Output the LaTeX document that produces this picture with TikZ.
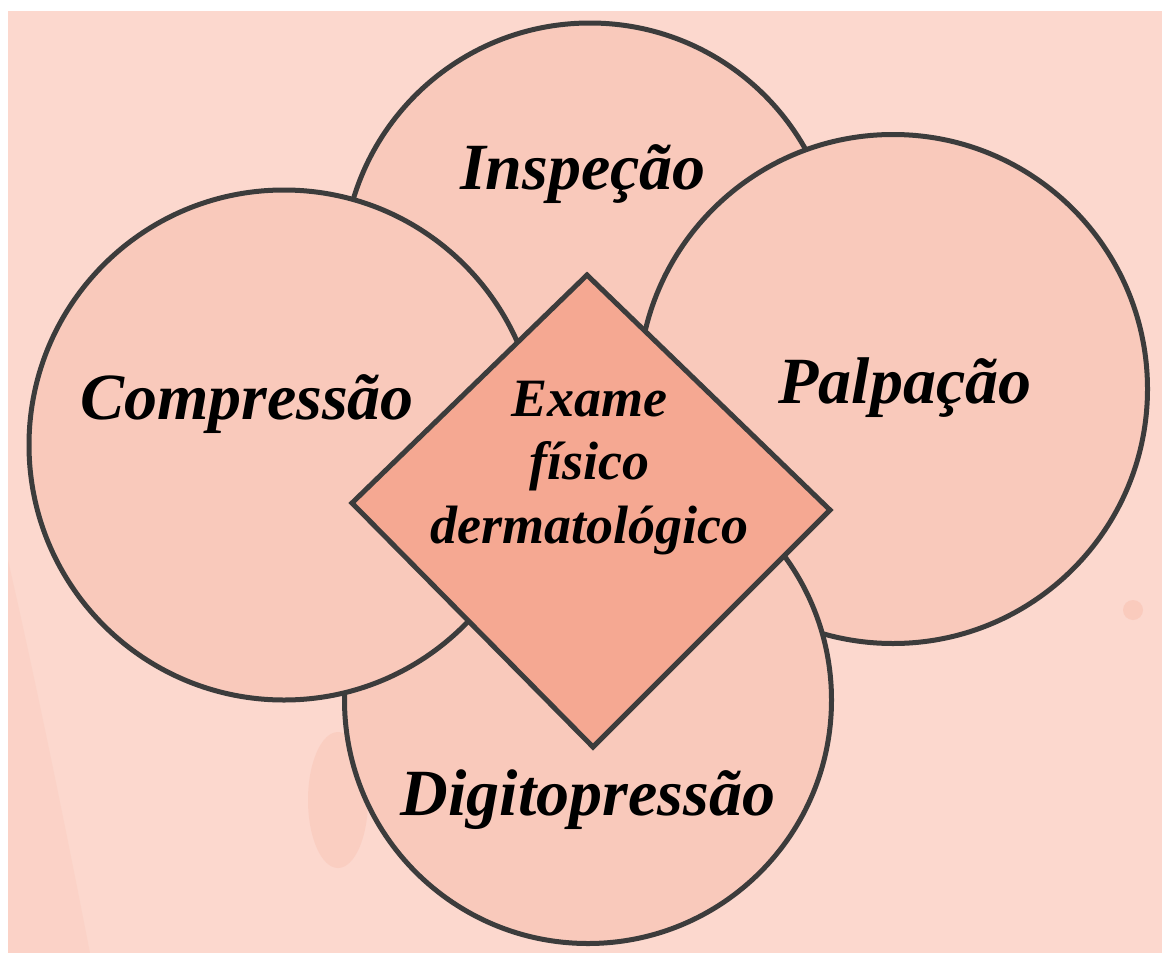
\documentclass[tikz,border=0pt]{standalone}
\usepackage{fontspec}
\setmainfont{Liberation Serif}
\definecolor{bgpink}{HTML}{FCD8CE}
\definecolor{bgdark}{HTML}{F9C3B3}
\definecolor{circfill}{HTML}{F9C9BB}
\definecolor{diafill}{HTML}{F5A892}
\definecolor{edge}{HTML}{3C3C3C}
\tikzset{
  blob/.style={circle, draw=edge, fill=circfill, line width=5pt, inner sep=0pt, outer sep=0pt},
  biglabel/.style={font=\fontsize{66}{72}\selectfont\bfseries\itshape, text=black, inner sep=0pt},
  midlabel/.style={font=\fontsize{54}{63.5}\selectfont\bfseries\itshape, text=black, align=center, inner sep=0pt}
}
\begin{document}
\begin{tikzpicture}[x=1pt,y=-1pt]
\useasboundingbox (0,0) rectangle (1162,953);
\fill[white] (0,0) rectangle (1162,953);
\fill[bgpink] (8,11) rectangle (1175,965);
% faint background texture
\fill[bgdark, opacity=0.25] (8,560) .. controls (40,700) and (70,850) .. (90,953) -- (8,953) -- cycle;
\fill[bgdark, opacity=0.45] (338,800) ellipse [x radius=30pt, y radius=68pt];
\fill[bgdark, opacity=0.6] (1133,610) circle [radius=10pt];
% circles (back to front)
\node[blob, minimum size=494pt] (insp) at (590,270) {};
\node[blob, minimum size=509pt] (palp) at (893,389) {};
\node[blob, minimum size=487pt] (digi) at (588,700) {};
\node[blob, minimum size=510pt] (comp) at (284,445) {};
% diamond
\coordinate (dT) at (587,275);
\coordinate (dR) at (830,510);
\coordinate (dB) at (593,747);
\coordinate (dL) at (352,503);
\filldraw[fill=diafill, draw=edge, line width=5pt, line join=miter] (dT) -- (dR) -- (dB) -- (dL) -- cycle;
% labels
\node[biglabel] (linsp) at (583,174) {Inspeção};
\node[biglabel] (lpalp) at (905,388) {Palpação};
\node[biglabel] (lcomp) at (247,404) {Compressão};
\node[biglabel] (ldigi) at (588,800) {Digitopressão};
\node[midlabel] (lexam) at (589,468) {Exame\\físico\\dermatológico};
\end{tikzpicture}
\end{document}
